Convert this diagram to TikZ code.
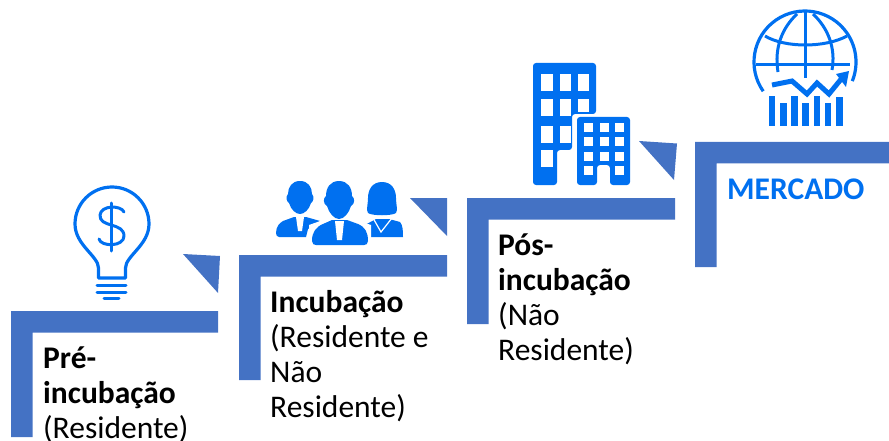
\documentclass[tikz,border=0pt]{standalone}
\usepackage{fontspec}
\setmainfont{Carlito}
\definecolor{stepblue}{HTML}{4472C4}
\definecolor{iconblue}{HTML}{0070F0}
\tikzset{
 stepbar/.style={fill=stepblue,draw=none},
 cue/.style={fill=stepblue,draw=none},
 iconfill/.style={fill=iconblue,draw=none},
 iconline/.style={draw=iconblue,line width=3.2pt,fill=none},
 gap/.style={fill=white,draw=none},
 steptext/.style={anchor=north west,inner sep=0pt,align=left,text=black,font=\fontsize{31.5}{35}\selectfont},
}
\newcommand{\stairstep}[4]{\fill[stepbar] (#1,#2) -- (#3,#2) -- (#3,#2+21.5) -- (#1+21.5,#2+21.5) -- (#1+21.5,#4) -- (#1,#4) -- cycle;}
\begin{document}
\begin{tikzpicture}[x=1pt,y=-1pt]
\useasboundingbox (0,0) rectangle (889,441);
% steps
\stairstep{11}{311}{218}{437}
\stairstep{239}{255}{447}{380}
\stairstep{467}{198}{675}{324}
\stairstep{695}{142}{889}{267}
% cues
\fill[cue] (183,254) -- (220,256) -- (218,293) -- cycle;
\fill[cue] (410,198) -- (447,198) -- (447,236) -- cycle;
\fill[cue] (639,141) -- (677,143.5) -- (674,180) -- cycle;
% texts
\node[steptext] (pre) at (43,347) {\textbf{Pré-}\\\textbf{incubação}\\(Residente)};
\node[steptext] (inc) at (270,290.5) {\textbf{Incubação}\\(Residente e\\Não\\Residente)};
\node[steptext] (pos) at (498,233.5) {\textbf{Pós-}\\\textbf{incubação}\\(Não\\Residente)};
\node[steptext,text=iconblue] (mer) at (727,179) {\textbf{MERCADO}};
% bulb
\draw[iconline,line join=round] (98.5,278) -- (98.5,268) .. controls (98.5,256) and (75,245) .. (75,224)
  arc[start angle=180,end angle=360,radius=37] .. controls (149,245) and (125.5,256) .. (125.5,268) -- (125.5,278) -- cycle;
\draw[iconblue,line width=3pt,line cap=round] (97,285) -- (126,285) (97,292) -- (126,292) (104,298.5) -- (119,298.5);
\draw[iconblue,line width=3pt,line cap=round,line join=round] (124,212) .. controls (121,205) and (101,205) .. (100,215) .. controls (99,228) and (124,222) .. (124,236) .. controls (124,247) and (101,247) .. (99,239);
\draw[iconblue,line width=3pt,line cap=round] (111,203) -- (111,251);
% people: right woman
\fill[iconfill] (363,226) -- (376,219) -- (389,219) -- (400,222) .. controls (403,225) and (403,232) .. (403,237) -- (368,237) -- cycle;
\fill[iconfill] (382,182) .. controls (392,182) and (396,190) .. (396,198) .. controls (396,204) and (398,210) .. (396,213) .. controls (392,216) and (372,216) .. (368,213) .. controls (366,210) and (368,204) .. (368,198) .. controls (368,190) and (372,182) .. (382,182) -- cycle;
\draw[white,line width=1.2pt] (373,218) -- (381,232) -- (392,218);
% people: left man
\fill[iconfill] (276,233) .. controls (276,226) and (280,223) .. (283,221) -- (294,217) -- (306,217) -- (320,221) -- (308,229) -- (306,237) -- (279,237) .. controls (277,237) and (276,235) .. (276,233) -- cycle;
\fill[iconfill] (300,181) .. controls (308,181) and (312,187) .. (312,194) .. controls (315,197) and (313,202) .. (311,203) .. controls (309,210) and (304,214) .. (300,214) .. controls (296,214) and (291,210) .. (289,203) .. controls (287,202) and (285,197) .. (288,194) .. controls (288,187) and (292,181) .. (300,181) -- cycle;
\fill[white] (296,217) -- (304,217) -- (302,231) -- (300,231) -- (298,231) -- cycle;
% people: middle man
\fill[gap] (309,248) -- (309,225) -- (340,214) -- (371,225) -- (371,248) -- cycle;
\fill[iconfill] (312,241) .. controls (312,232) and (316,227) .. (323,224) -- (332,220) -- (347,220) -- (358,224) .. controls (365,227) and (368,232) .. (368,241) .. controls (368,244) and (366,245) .. (364,245) -- (316,245) .. controls (314,245) and (312,244) .. (312,241) -- cycle;
\fill[iconfill] (339,181) .. controls (348,181) and (352,188) .. (352,196) .. controls (355,198) and (355,204) .. (351,206) .. controls (349,213) and (344,219) .. (339,219) .. controls (334,219) and (329,213) .. (327,206) .. controls (323,204) and (323,198) .. (326,196) .. controls (326,188) and (330,181) .. (339,181) -- cycle;
\fill[white] (335,221) -- (344,221) -- (342,240) -- (337,240) -- cycle;
% large building
\fill[iconfill,rounded corners=3pt] (533,63) -- (596,63) -- (596,114) -- (572,114) -- (572,150) -- (557,150) -- (557,185) -- (533,185) -- cycle;
\foreach \cx/\cy/\ch in {541/74/17,559.5/74/17,577.5/74/17,541/99/17,559.5/99/17,577.5/99/13,541/126/17,559.5/126/17,541/150/17}{
 \fill[white] (\cx,\cy) rectangle ++(11.5,\ch);
}
% small building
\fill[iconfill,rounded corners=3pt] (577,117) -- (630,117) -- (630,185) -- (610,185) -- (610,165) -- (597,165) -- (597,185) -- (577,185) -- cycle;
\foreach \cx in {583.5,599.5,614.5}{\foreach \cy in {123.5,137.5,152}{
 \fill[white] (\cx,\cy) rectangle ++(9.3,9);
}}
\fill[white] (583.5,166) rectangle ++(9.3,9);
\fill[white] (614.5,166) rectangle ++(9.3,9);
% globe
\draw[iconline] (805,62) ++(145:51) arc[start angle=145,end angle=382,radius=51];
\draw[iconline,line width=3pt] (805,12) -- (805,78);
\draw[iconline,line width=3pt] (778,72) .. controls (774,48) and (782,28) .. (797,14) (813,14) .. controls (828,28) and (836,48) .. (832,70);
\draw[iconline,line width=3pt] (756,65) -- (850,65);
\draw[iconline,line width=3pt] (765,36) .. controls (785,48) and (825,48) .. (847,36);
\draw[iconblue,line width=5pt,line join=miter] (772,85) -- (792,81) -- (807,94) -- (817,83) -- (829,94) -- (842,78);
\fill[iconfill] (836,74) -- (849,71) -- (846,87) -- cycle;
\foreach \bx/\by in {768.5/96,780/103,791/96,802/103,813.5/96,824.5/103,836/97.5}{
 \fill[iconfill] (\bx,\by) rectangle (\bx+6.5,126);
}
\end{tikzpicture}
\end{document}
